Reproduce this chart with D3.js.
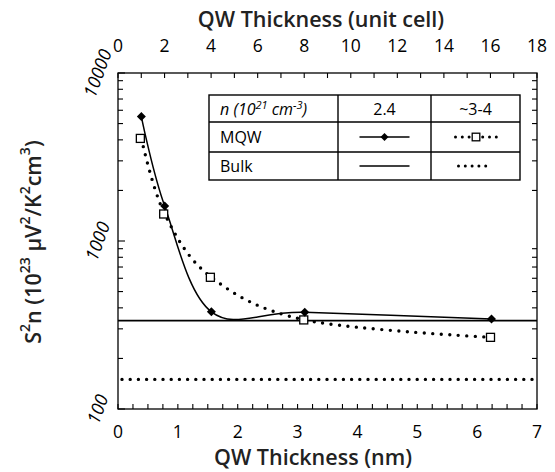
<!DOCTYPE html>
<html><head><meta charset="utf-8">
<script src="https://cdn.jsdelivr.net/npm/d3@7"></script>
<style>body{margin:0;background:#fff}svg{display:block}</style>
</head><body>
<svg id="c" width="555" height="472"></svg>
<script>
// ---- data ----
const thicknessNm = [0.39, 0.78, 1.56, 3.12, 6.24];
const mqw24 = [5500, 1615, 379, 376, 343];
const mqw34 = [4080, 1448, 608, 339, 267];
const bulk24 = 336;
const bulk34 = 150;
const bottomTicks = [0, 1, 2, 3, 4, 5, 6, 7];
const topTicks = [0, 2, 4, 6, 8, 10, 12, 14, 16, 18];
const yTicks = [100, 1000, 10000];
const legendHeader = ["n (10²¹ cm⁻³)", "2.4", "~3-4"];
const legendRows = ["MQW", "Bulk"];

const FONT = "'Open Sans', sans-serif";
const svg = d3.select("#c");
const L = 118, R = 537, T = 73, B = 409;
const x = d3.scaleLinear().domain([0, 7]).range([L, R]);
const xTop = d3.scaleLinear().domain([0, 18]).range([L, R]);
const y = d3.scaleLog().domain([100, 10000]).range([B, T]);

// frame
svg.append("rect").attr("x", L).attr("y", T).attr("width", R - L).attr("height", B - T)
  .attr("fill", "none").attr("stroke", "#000").attr("stroke-width", 1.3);

// ticks
const g = svg.append("g").attr("stroke", "#000").attr("stroke-width", 1.1);
d3.range(0, 7.001, 0.25).forEach(v => {
  g.append("line").attr("x1", x(v)).attr("x2", x(v)).attr("y1", B).attr("y2", B - 5);
});
d3.range(0, 18.001, 1).forEach(v => {
  g.append("line").attr("x1", xTop(v)).attr("x2", xTop(v)).attr("y1", T).attr("y2", T + 5);
});
const minor = [];
[100, 1000].forEach(d => { for (let k = 2; k <= 9; k++) minor.push(d * k); });
minor.forEach(v => {
  g.append("line").attr("x1", L).attr("x2", L + 5).attr("y1", y(v)).attr("y2", y(v));
  g.append("line").attr("x1", R).attr("x2", R - 5).attr("y1", y(v)).attr("y2", y(v));
});
yTicks.forEach(v => {
  g.append("line").attr("x1", L).attr("x2", L + 7).attr("y1", y(v)).attr("y2", y(v));
});

// tick labels
const tl = svg.append("g").attr("font-family", FONT).attr("font-size", 17.5).attr("fill", "#000");
bottomTicks.forEach(v => tl.append("text").attr("x", x(v)).attr("y", 431)
  .attr("text-anchor", "middle").attr("dominant-baseline", "central").text(v));
topTicks.forEach(v => tl.append("text").attr("x", xTop(v)).attr("y", 45)
  .attr("text-anchor", "middle").attr("dominant-baseline", "central").text(v));
yTicks.forEach(v => tl.append("text")
  .attr("transform", `translate(97,${y(v)}) rotate(-70)`)
  .attr("text-anchor", "middle").attr("dominant-baseline", "central")
  .attr("font-size", 18).attr("font-style", "italic").text(v));

// axis titles
const at = svg.append("g").attr("font-family", FONT).attr("font-size", 21.5).attr("font-weight", 600).attr("fill", "#222");
at.append("text").attr("x", 321).attr("y", 18).attr("text-anchor", "middle")
  .attr("dominant-baseline", "central").text("QW Thickness (unit cell)");
at.append("text").attr("x", 313).attr("y", 456).attr("text-anchor", "middle")
  .attr("dominant-baseline", "central").text("QW Thickness (nm)");
const yt = at.append("text").attr("transform", "translate(32,242) rotate(-90)")
  .attr("text-anchor", "middle").attr("dominant-baseline", "central");
const sup = (txt) => { yt.append("tspan").attr("font-size", 14).attr("dy", -8).text(txt); };
const norm = (txt) => { yt.append("tspan").attr("dy", 8).text(txt); };
yt.append("tspan").text("S");
sup("2"); norm("n (10"); sup("23"); norm(" μV"); sup("2"); norm("/K"); sup("2"); norm("cm"); sup("3"); norm(")");

// bulk lines
svg.append("line").attr("x1", L).attr("x2", R).attr("y1", y(bulk24)).attr("y2", y(bulk24))
  .attr("stroke", "#000").attr("stroke-width", 1.6);
svg.append("line").attr("x1", L + 4).attr("x2", R).attr("y1", y(bulk34)).attr("y2", y(bulk34))
  .attr("stroke", "#000").attr("stroke-width", 3.4).attr("stroke-linecap", "round")
  .attr("stroke-dasharray", "0 8.2");

// curves
const line = d3.line().x(d => x(d[0])).y(d => y(d[1])).curve(d3.curveCardinal.tension(0));
const d24 = thicknessNm.map((t, i) => [t, mqw24[i]]);
const d34 = thicknessNm.map((t, i) => [t, mqw34[i]]);
svg.append("path").attr("d", line(d34)).attr("fill", "none").attr("stroke", "#000")
  .attr("stroke-width", 3.4).attr("stroke-linecap", "round").attr("stroke-dasharray", "0 8.5");
svg.append("path").attr("d", line(d24)).attr("fill", "none").attr("stroke", "#000").attr("stroke-width", 1.5);

const diamond = (s, cx, cy, r) => s.append("path")
  .attr("d", `M${cx},${cy - r}L${cx + r},${cy}L${cx},${cy + r}L${cx - r},${cy}Z`).attr("fill", "#000");
const square = (s, cx, cy, h) => s.append("rect").attr("x", cx - h).attr("y", cy - h)
  .attr("width", 2 * h).attr("height", 2 * h).attr("fill", "#fff").attr("stroke", "#000").attr("stroke-width", 1.3);
d34.forEach(d => square(svg, x(d[0]) - 1, y(d[1]), 4));
d24.forEach(d => diamond(svg, x(d[0]), y(d[1]), 4.5));

// legend table
const lg = svg.append("g");
const tx0 = 209, tx1 = 338, tx2 = 431, tx3 = 520, ty0 = 95, ty1 = 122, ty2 = 152, ty3 = 180;
lg.append("rect").attr("x", tx0).attr("y", ty0).attr("width", tx3 - tx0).attr("height", ty3 - ty0)
  .attr("fill", "#fff").attr("stroke", "#000").attr("stroke-width", 1.4);
[tx1, tx2].forEach(v => lg.append("line").attr("x1", v).attr("x2", v).attr("y1", ty0).attr("y2", ty3)
  .attr("stroke", "#000").attr("stroke-width", 1.4));
[ty1, ty2].forEach(v => lg.append("line").attr("x1", tx0).attr("x2", tx3).attr("y1", v).attr("y2", v)
  .attr("stroke", "#000").attr("stroke-width", 1.4));
const lt = lg.append("g").attr("font-family", FONT).attr("font-size", 16).attr("fill", "#000");
const hdr = lt.append("text").attr("x", 220).attr("y", 108.5).attr("dominant-baseline", "central")
  .attr("font-style", "italic");
hdr.append("tspan").text("n (10");
hdr.append("tspan").attr("font-size", 11).attr("dy", -5).text("21");
hdr.append("tspan").attr("dy", 5).text(" cm");
hdr.append("tspan").attr("font-size", 11).attr("dy", -5).text("-3");
hdr.append("tspan").attr("dy", 5).text(")");
lt.append("text").attr("x", (tx1 + tx2) / 2).attr("y", 108.5).attr("text-anchor", "middle")
  .attr("dominant-baseline", "central").text(legendHeader[1]);
lt.append("text").attr("x", (tx2 + tx3) / 2).attr("y", 108.5).attr("text-anchor", "middle")
  .attr("dominant-baseline", "central").text(legendHeader[2]);
legendRows.forEach((r, i) => lt.append("text").attr("x", 220).attr("y", i === 0 ? 137 : 166)
  .attr("dominant-baseline", "central").text(r));
const c2 = (tx1 + tx2) / 2, c3 = (tx2 + tx3) / 2;
lg.append("line").attr("x1", c2 - 25).attr("x2", c2 + 25).attr("y1", 137).attr("y2", 137)
  .attr("stroke", "#000").attr("stroke-width", 1.5);
diamond(lg, c2, 137, 4);
lg.append("line").attr("x1", c2 - 25).attr("x2", c2 + 25).attr("y1", 166).attr("y2", 166)
  .attr("stroke", "#000").attr("stroke-width", 1.5);
lg.append("line").attr("x1", c3 - 20).attr("x2", c3 + 21).attr("y1", 137).attr("y2", 137)
  .attr("stroke", "#000").attr("stroke-width", 3).attr("stroke-linecap", "round").attr("stroke-dasharray", "0 6.8");
square(lg, c3 + 0.5, 137, 3.8);
lg.append("line").attr("x1", c3 - 17).attr("x2", c3 + 17).attr("y1", 166).attr("y2", 166)
  .attr("stroke", "#000").attr("stroke-width", 3).attr("stroke-linecap", "round").attr("stroke-dasharray", "0 6.8");
</script>
</body></html>
